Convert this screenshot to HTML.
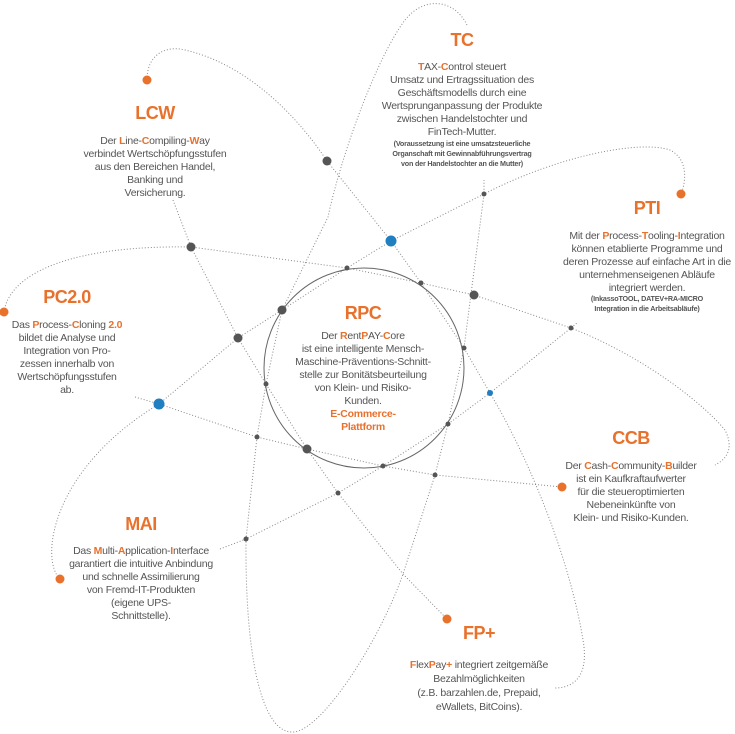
<!DOCTYPE html>
<html><head><meta charset="utf-8"><style>
html,body{margin:0;padding:0;background:#fff;}
#w{position:relative;width:735px;height:734px;overflow:hidden;font-family:"Liberation Sans",sans-serif;color:#555;}
svg{position:absolute;left:0;top:0;}
.t{position:absolute;text-align:center;font-size:10.5px;line-height:13px;letter-spacing:-0.25px;white-space:nowrap;}
.h{position:absolute;text-align:center;color:#e8712c;font-weight:bold;font-size:18px;line-height:20px;letter-spacing:-0.5px;}
.o{color:#e8712c;font-weight:bold;}
.s{font-size:7.2px;line-height:10px;font-weight:bold;letter-spacing:-0.2px;}
</style></head><body><div id="w">
<svg width="735" height="734" viewBox="0 0 735 734">
<g fill="none" stroke="#888" stroke-width="1" stroke-dasharray="1 2">
<path d="M147,80 C147,55 165,45 185,50 C250,65 300,120 327,161 L391,241 L421,283 L464,348 L490,393 C530,460 570,560 583,640 C590,680 570,688 555,688"/>
<path d="M467,25 C455,0 425,-5 405,20 C375,60 340,160 328,217 L282,310 L266,384 L257,437 L246,539 C245,650 260,730 291,732 C320,735 380,640 403,574 L435,475 L448,424 L464,348 L484,194 L484,180"/>
<path d="M60,579 C40,560 50,470 159,404 L238,338 L282,310 L347,268 L391,241 L484,194 C560,155 640,140 670,150 C690,160 685,185 681,194"/>
<path d="M135,397 L159,404 L257,437 L307,449 L383,466 L435,475 L562,487"/>
<path d="M4,312 C10,270 80,245 191,247 L347,268 L421,283 L474,295 L571,328 C640,355 700,400 725,430 C735,450 725,460 715,465"/>
<path d="M173,200 L191,247 L238,338 L266,384 L307,449 L338,493 L403,574 L447,619"/>
<path d="M220,549 L246,539 L338,493 L383,466 L448,424 L490,393 L571,328 L578,322"/>
</g>
<circle cx="364" cy="368" r="100" fill="none" stroke="#666" stroke-width="1"/>
<g fill="#555">
<circle cx="327" cy="161" r="4.5"/><circle cx="191" cy="247" r="4.5"/><circle cx="474" cy="295" r="4.5"/>
<circle cx="238" cy="338" r="4.5"/><circle cx="282" cy="310" r="4.5"/><circle cx="307" cy="449" r="4.5"/>
<circle cx="484" cy="194" r="2.5"/><circle cx="347" cy="268" r="2.5"/><circle cx="421" cy="283" r="2.5"/>
<circle cx="571" cy="328" r="2.5"/><circle cx="464" cy="348" r="2.5"/><circle cx="266" cy="384" r="2.5"/>
<circle cx="448" cy="424" r="2.5"/><circle cx="257" cy="437" r="2.5"/><circle cx="383" cy="466" r="2.5"/>
<circle cx="435" cy="475" r="2.5"/><circle cx="338" cy="493" r="2.5"/><circle cx="246" cy="539" r="2.5"/>
</g>
<g fill="#1f7fc1"><circle cx="391" cy="241" r="5.5"/><circle cx="159" cy="404" r="5.5"/><circle cx="490" cy="393" r="3"/></g>
<g fill="#e8712c">
<circle cx="147" cy="80" r="4.5"/><circle cx="681" cy="194" r="4.5"/><circle cx="4" cy="312" r="4.5"/>
<circle cx="562" cy="487" r="4.5"/><circle cx="60" cy="579" r="4.5"/><circle cx="447" cy="619" r="4.5"/>
</g>
</svg>

<div class="h" style="left:412px;top:30px;width:100px;">TC</div>
<div class="t" style="left:362px;top:61px;width:200px;"><span class="o">T</span>AX-<span class="o">C</span>ontrol steuert<br>Umsatz und Ertragssituation des<br>Geschäftsmodells durch eine<br>Wertsprunganpassung der Produkte<br>zwischen Handelstochter und<br>FinTech-Mutter.</div>
<div class="t s" style="left:362px;top:139px;width:200px;">(Voraussetzung ist eine umsatzsteuerliche<br>Organschaft mit Gewinnabführungsvertrag<br>von der Handelstochter an die Mutter)</div>

<div class="h" style="left:105px;top:103px;width:100px;">LCW</div>
<div class="t" style="left:55px;top:135px;width:200px;">Der <span class="o">L</span>ine-<span class="o">C</span>ompiling-<span class="o">W</span>ay<br>verbindet Wertschöpfungsstufen<br>aus den Bereichen Handel,<br>Banking und<br>Versicherung.</div>

<div class="h" style="left:597px;top:198px;width:100px;">PTI</div>
<div class="t" style="left:542px;top:230px;width:210px;">Mit der <span class="o">P</span>rocess-<span class="o">T</span>ooling-<span class="o">I</span>ntegration<br>können etablierte Programme und<br>deren Prozesse auf einfache Art in die<br>unternehmenseigenen Abläufe<br>integriert werden.</div>
<div class="t s" style="left:547px;top:294px;width:200px;">(InkassoTOOL, DATEV+RA-MICRO<br>Integration in die Arbeitsabläufe)</div>

<div class="h" style="left:17px;top:287px;width:100px;">PC2.0</div>
<div class="t" style="left:-33px;top:319px;width:200px;">Das <span class="o">P</span>rocess-<span class="o">C</span>loning <span class="o">2.0</span><br>bildet die Analyse und<br>Integration von Pro-<br>zessen innerhalb von<br>Wertschöpfungsstufen<br>ab.</div>

<div class="h" style="left:313px;top:303px;width:100px;">RPC</div>
<div class="t" style="left:263px;top:330px;width:200px;">Der <span class="o">R</span>ent<span class="o">P</span>AY-<span class="o">C</span>ore<br>ist eine intelligente Mensch-<br>Maschine-Präventions-Schnitt-<br>stelle zur Bonitätsbeurteilung<br>von Klein- und Risiko-<br>Kunden.<br><span class="o">E-Commerce-</span><br><span class="o">Plattform</span></div>

<div class="h" style="left:581px;top:428px;width:100px;">CCB</div>
<div class="t" style="left:531px;top:460px;width:200px;">Der <span class="o">C</span>ash-<span class="o">C</span>ommunity-<span class="o">B</span>uilder<br>ist ein Kaufkraftaufwerter<br>für die steueroptimierten<br>Nebeneinkünfte von<br>Klein- und Risiko-Kunden.</div>

<div class="h" style="left:91px;top:514px;width:100px;">MAI</div>
<div class="t" style="left:41px;top:545px;width:200px;">Das <span class="o">M</span>ulti-<span class="o">A</span>pplication-<span class="o">I</span>nterface<br>garantiert die intuitive Anbindung<br>und schnelle Assimilierung<br>von Fremd-IT-Produkten<br>(eigene UPS-<br>Schnittstelle).</div>

<div class="h" style="left:429px;top:623px;width:100px;">FP+</div>
<div class="t" style="left:379px;top:658px;width:200px;line-height:14px;"><span class="o">F</span>lex<span class="o">P</span>ay<span class="o">+</span> integriert zeitgemäße<br>Bezahlmöglichkeiten<br>(z.B. barzahlen.de, Prepaid,<br>eWallets, BitCoins).</div>
</div></body></html>
